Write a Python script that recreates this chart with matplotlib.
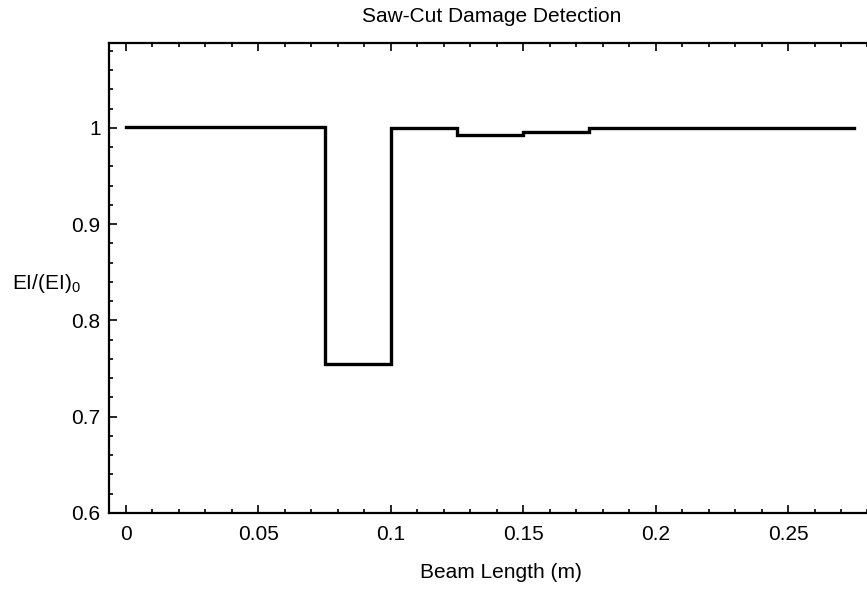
import numpy as np
import matplotlib.pyplot as plt
from matplotlib.ticker import MultipleLocator

plt.rcParams['font.family'] = ['Liberation Sans', 'DejaVu Sans']
plt.rcParams['mathtext.default'] = 'regular'

# Element boundaries along the beam (m) and identified stiffness ratio per element
edges = [0.0, 0.025, 0.05, 0.075, 0.1, 0.125, 0.15, 0.175, 0.2, 0.225, 0.25, 0.275]
stiffness = [1.001, 1.001, 1.001, 0.755, 1.000, 0.993, 0.996, 0.9995, 1.000, 1.000, 1.000]

W, H = 867, 591
fig = plt.figure(figsize=(W / 100, H / 100), dpi=100)
ax = fig.add_axes([0.1257, 0.132, 0.895, 0.795])

# step curve: repeat last value so the final element is drawn to its end
ax.step(edges, stiffness + [stiffness[-1]], where='post', color='black', lw=2.4,
        solid_joinstyle='miter')

ax.set_xlim(-0.0064, 0.2866)
ax.set_ylim(0.6, 1.088)
ax.xaxis.set_minor_locator(MultipleLocator(0.01))
ax.yaxis.set_minor_locator(MultipleLocator(0.02))
ax.set_xticks([0, 0.05, 0.1, 0.15, 0.2, 0.25])
ax.set_xticklabels(['0', '0.05', '0.1', '0.15', '0.2', '0.25'])
ax.set_yticks([0.6, 0.7, 0.8, 0.9, 1.0])
ax.set_yticklabels(['0.6', '0.7', '0.8', '0.9', '1'])

fs = 15
ax.tick_params(which='both', direction='in', top=True, right=False, width=1.2,
               labelsize=fs)
ax.tick_params(axis='x', pad=9)
ax.tick_params(axis='y', pad=6)
ax.tick_params(which='major', length=6)
ax.tick_params(which='minor', length=3)
for side in ['left', 'bottom', 'top']:
    ax.spines[side].set_linewidth(1.6)
ax.spines['right'].set_visible(False)

fig.text(492 / W, 1 - 17 / H, 'Saw-Cut Damage Detection', fontsize=fs,
         ha='center', va='center')
fig.text(501 / W, 1 - 572 / H, 'Beam Length (m)', fontsize=fs,
         ha='center', va='center')
fig.text(12 / W, 1 - 283 / H, 'EI/(EI)$_0$', fontsize=fs, va='center', ha='left')

plt.savefig('out.png', dpi=100)
